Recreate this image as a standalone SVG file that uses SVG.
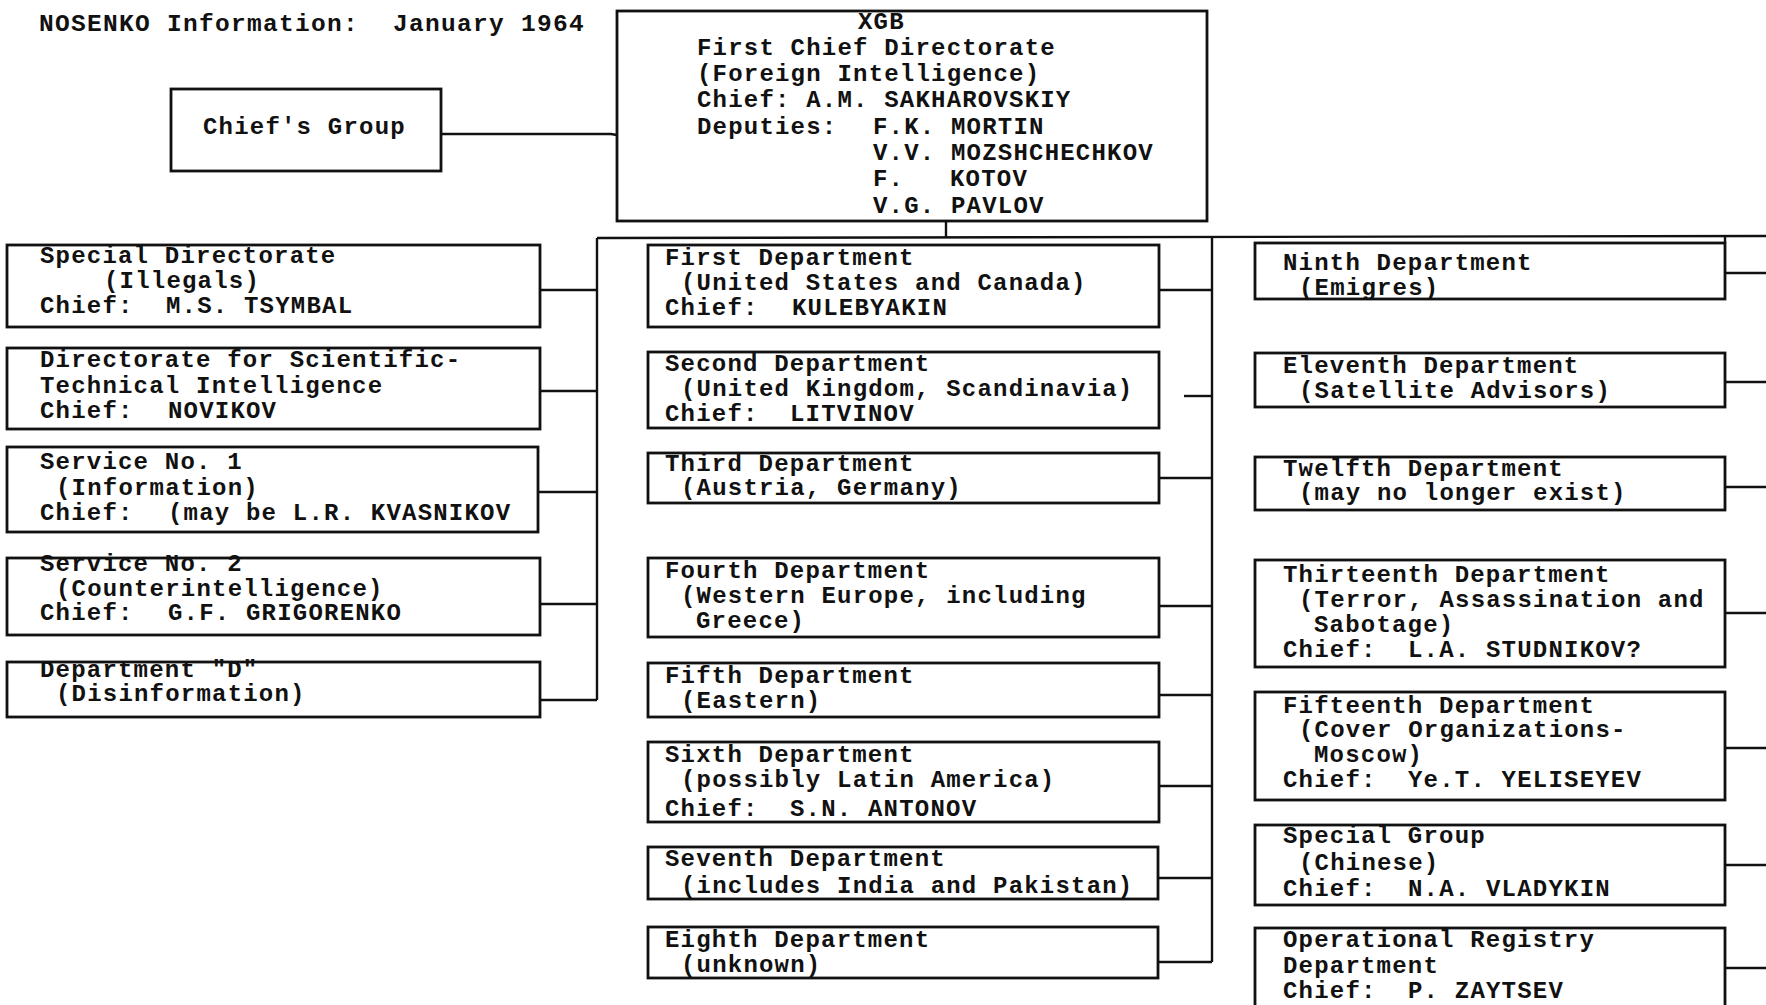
<svg xmlns="http://www.w3.org/2000/svg" width="1766" height="1005" viewBox="0 0 1766 1005">
<style>
text{font-family:"Liberation Mono","DejaVu Sans Mono",monospace;font-size:24px;letter-spacing:1.2px;font-weight:bold;fill:#111}
.box{fill:none;stroke:#111;stroke-width:2.8}
.ln{fill:none;stroke:#111;stroke-width:2.4}
.title{font-size:24.5px;letter-spacing:1.3px}
</style>
<rect x="0" y="0" width="1766" height="1005" fill="#fff"/>
<g id="title">
<text class="title" x="39" y="31">NOSENKO Information:</text>
<text class="title" x="393" y="31">January 1964</text>
</g>

<g id="connectors">
<polyline class="ln" points="441,134 611,134 617,135"/>
<line class="ln" x1="946" y1="221" x2="946" y2="238"/>
<line class="ln" x1="597" y1="238" x2="1766" y2="236"/>
<line class="ln" x1="597" y1="238" x2="597" y2="700"/>
<line class="ln" x1="540" y1="290" x2="597" y2="290"/>
<line class="ln" x1="540" y1="391" x2="597" y2="391"/>
<line class="ln" x1="538" y1="492" x2="597" y2="492"/>
<line class="ln" x1="540" y1="604" x2="597" y2="604"/>
<line class="ln" x1="540" y1="700" x2="597" y2="700"/>
<line class="ln" x1="1212" y1="237" x2="1212" y2="962"/>
<line class="ln" x1="1159" y1="290" x2="1212" y2="290"/>
<line class="ln" x1="1184" y1="396" x2="1212" y2="396"/>
<line class="ln" x1="1159" y1="478" x2="1212" y2="478"/>
<line class="ln" x1="1159" y1="606" x2="1212" y2="606"/>
<line class="ln" x1="1159" y1="695" x2="1212" y2="695"/>
<line class="ln" x1="1159" y1="786" x2="1212" y2="786"/>
<line class="ln" x1="1159" y1="878" x2="1212" y2="878"/>
<line class="ln" x1="1159" y1="962" x2="1212" y2="962"/>
<line class="ln" x1="1725" y1="236" x2="1725" y2="243"/>
<line class="ln" x1="1725" y1="273" x2="1766" y2="273"/>
<line class="ln" x1="1725" y1="382" x2="1766" y2="382"/>
<line class="ln" x1="1725" y1="487" x2="1766" y2="487"/>
<line class="ln" x1="1725" y1="613" x2="1766" y2="613"/>
<line class="ln" x1="1725" y1="748" x2="1766" y2="748"/>
<line class="ln" x1="1725" y1="865" x2="1766" y2="865"/>
<line class="ln" x1="1725" y1="968" x2="1766" y2="968"/>
</g>

<g id="chiefs-group">
<rect class="box" x="171" y="89" width="270" height="82"/>
<text x="203" y="134">Chief's Group</text>
</g>

<g id="kgb-first-chief-directorate">
<rect class="box" x="617" y="11" width="590" height="210"/>
<text x="858" y="29">XGB</text>
<text x="697" y="55">First Chief Directorate</text>
<text x="697" y="81">(Foreign Intelligence)</text>
<text x="697" y="107">Chief: A.M. SAKHAROVSKIY</text>
<text x="697" y="134">Deputies:</text>
<text x="873" y="134">F.K. MORTIN</text>
<text x="873" y="160">V.V. MOZSHCHECHKOV</text>
<text x="873" y="186">F.</text>
<text x="950" y="186">KOTOV</text>
<text x="873" y="213">V.G. PAVLOV</text>
</g>

<g id="special-directorate">
<rect class="box" x="7" y="245" width="533" height="82"/>
<text x="40" y="263">Special Directorate</text>
<text x="104" y="288">(Illegals)</text>
<text x="40" y="313">Chief:</text>
<text x="166" y="313">M.S. TSYMBAL</text>
</g>

<g id="directorate-sci-tech">
<rect class="box" x="7" y="348" width="533" height="81"/>
<text x="40" y="367">Directorate for Scientific-</text>
<text x="40" y="393">Technical Intelligence</text>
<text x="40" y="418">Chief:</text>
<text x="168" y="418">NOVIKOV</text>
</g>

<g id="service-1">
<rect class="box" x="7" y="447" width="531" height="85"/>
<text x="40" y="469">Service No. 1</text>
<text x="56" y="495">(Information)</text>
<text x="40" y="520">Chief:</text>
<text x="168" y="520">(may be L.R. KVASNIKOV</text>
</g>

<g id="service-2">
<rect class="box" x="7" y="558" width="533" height="77"/>
<text x="40" y="571">Service No. 2</text>
<text x="56" y="596">(Counterintelligence)</text>
<text x="40" y="620">Chief:</text>
<text x="168" y="620">G.F. GRIGORENKO</text>
</g>

<g id="department-d">
<rect class="box" x="7" y="662" width="533" height="55"/>
<text x="40" y="677">Department "D"</text>
<text x="56" y="701">(Disinformation)</text>
</g>

<g id="first-department">
<rect class="box" x="648" y="245" width="511" height="82"/>
<text x="665" y="265">First Department</text>
<text x="681" y="290">(United States and Canada)</text>
<text x="665" y="315">Chief:</text>
<text x="792" y="315">KULEBYAKIN</text>
</g>

<g id="second-department">
<rect class="box" x="648" y="352" width="511" height="76"/>
<text x="665" y="371">Second Department</text>
<text x="681" y="396">(United Kingdom, Scandinavia)</text>
<text x="665" y="421">Chief:</text>
<text x="790" y="421">LITVINOV</text>
</g>

<g id="third-department">
<rect class="box" x="648" y="453" width="511" height="50"/>
<text x="665" y="471">Third Department</text>
<text x="681" y="495">(Austria, Germany)</text>
</g>

<g id="fourth-department">
<rect class="box" x="648" y="558" width="511" height="79"/>
<text x="665" y="578">Fourth Department</text>
<text x="681" y="603">(Western Europe, including</text>
<text x="696" y="628">Greece)</text>
</g>

<g id="fifth-department">
<rect class="box" x="648" y="663" width="511" height="54"/>
<text x="665" y="683">Fifth Department</text>
<text x="681" y="708">(Eastern)</text>
</g>

<g id="sixth-department">
<rect class="box" x="648" y="742" width="511" height="80"/>
<text x="665" y="762">Sixth Department</text>
<text x="681" y="787">(possibly Latin America)</text>
<text x="665" y="816">Chief:</text>
<text x="790" y="816">S.N. ANTONOV</text>
</g>

<g id="seventh-department">
<rect class="box" x="648" y="847" width="510" height="52"/>
<text x="665" y="866">Seventh Department</text>
<text x="681" y="893">(includes India and Pakistan)</text>
</g>

<g id="eighth-department">
<rect class="box" x="648" y="927" width="510" height="51"/>
<text x="665" y="947">Eighth Department</text>
<text x="681" y="972">(unknown)</text>
</g>

<g id="ninth-department">
<rect class="box" x="1255" y="243" width="470" height="56"/>
<text x="1283" y="270">Ninth Department</text>
<text x="1299" y="295">(Emigres)</text>
</g>

<g id="eleventh-department">
<rect class="box" x="1255" y="353" width="470" height="54"/>
<text x="1283" y="373">Eleventh Department</text>
<text x="1299" y="398">(Satellite Advisors)</text>
</g>

<g id="twelfth-department">
<rect class="box" x="1255" y="457" width="470" height="53"/>
<text x="1283" y="476">Twelfth Department</text>
<text x="1299" y="500">(may no longer exist)</text>
</g>

<g id="thirteenth-department">
<rect class="box" x="1255" y="560" width="470" height="107"/>
<text x="1283" y="582">Thirteenth Department</text>
<text x="1299" y="607">(Terror, Assassination and</text>
<text x="1314" y="632">Sabotage)</text>
<text x="1283" y="657">Chief:</text>
<text x="1408" y="657">L.A. STUDNIKOV?</text>
</g>

<g id="fifteenth-department">
<rect class="box" x="1255" y="692" width="470" height="108"/>
<text x="1283" y="713">Fifteenth Department</text>
<text x="1299" y="737">(Cover Organizations-</text>
<text x="1314" y="762">Moscow)</text>
<text x="1283" y="787">Chief:</text>
<text x="1408" y="787">Ye.T. YELISEYEV</text>
</g>

<g id="special-group">
<rect class="box" x="1255" y="825" width="470" height="80"/>
<text x="1283" y="843">Special Group</text>
<text x="1299" y="870">(Chinese)</text>
<text x="1283" y="896">Chief:</text>
<text x="1408" y="896">N.A. VLADYKIN</text>
</g>

<g id="operational-registry">
<rect class="box" x="1255" y="928" width="470" height="90"/>
<text x="1283" y="947">Operational Registry</text>
<text x="1283" y="973">Department</text>
<text x="1283" y="998">Chief:</text>
<text x="1408" y="998">P. ZAYTSEV</text>
</g>
</svg>
